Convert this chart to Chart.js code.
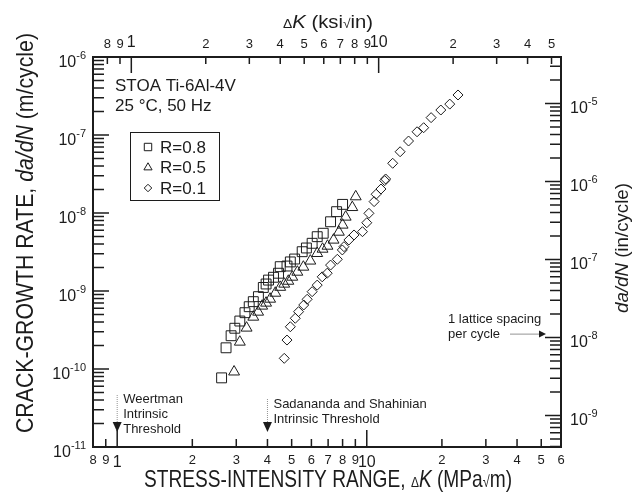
<!DOCTYPE html>
<html>
<head>
<meta charset="utf-8">
<title>Crack growth rate vs stress-intensity range</title>
<script src="https://cdn.jsdelivr.net/npm/chart.js@4/dist/chart.umd.min.js"></script>
<style>
  html, body { margin: 0; padding: 0; background: #fff; }
  #chart { display: block; }
</style>
</head>
<body>
<canvas id="chart" width="639" height="493"></canvas>
<script>
// ---- data ----
// R = 0.8 (squares)
const r08DeltaK = [2.62, 2.73, 2.86, 2.96, 3.10, 3.25, 3.38, 3.51, 3.68, 3.85, 3.95, 4.04, 4.23,
  4.43, 4.50, 4.79, 4.94, 5.14, 5.51, 5.73, 6.04, 6.33, 6.69, 7.16, 7.57, 8.00];
const r08Rate = [7.7e-11, 1.87e-10, 2.67e-10, 3.33e-10, 4.12e-10, 5.27e-10, 6.29e-10, 7.3e-10,
  8.46e-10, 1.11e-9, 1.23e-9, 1.38e-9, 1.5e-9, 1.69e-9, 2.05e-9, 2.09e-9, 2.36e-9, 2.57e-9,
  3.19e-9, 3.56e-9, 4.09e-9, 4.97e-9, 5.5e-9, 7.72e-9, 1.04e-8, 1.29e-8];

// R = 0.5 (triangles)
const r05DeltaK = [2.94, 3.10, 3.30, 3.51, 3.67, 3.81, 3.95, 4.10, 4.30, 4.50, 4.67, 4.85, 5.03,
  5.27, 5.57, 5.94, 6.33, 6.65, 6.96, 7.36, 7.73, 8.00, 8.23, 8.75, 9.03];
const r05Rate = [9.2e-11, 2.22e-10, 3.36e-10, 4.64e-10, 5.38e-10, 6.43e-10, 7.02e-10, 7.89e-10,
  9.41e-10, 1.12e-9, 1.23e-9, 1.34e-9, 1.51e-9, 1.75e-9, 2.03e-9, 2.43e-9, 3.04e-9, 3.45e-9,
  3.77e-9, 4.51e-9, 5.7e-9, 7.02e-9, 8.89e-9, 1.18e-8, 1.62e-8];

// R = 0.1 (diamonds)
const r01DeltaK = [4.67, 4.79, 4.94, 5.17, 5.33, 5.59, 5.77, 6.04, 6.33, 6.63, 6.94, 7.16, 7.62,
  7.98, 8.10, 8.48, 8.89, 9.61, 10.0, 10.2, 10.7, 10.9, 11.4, 11.8, 11.9, 12.7, 13.6, 14.7,
  15.9, 16.9, 18.1, 19.8, 21.5, 23.2];
const r01Rate = [1.37e-10, 2.35e-10, 3.48e-10, 4.47e-10, 5.43e-10, 6.62e-10, 7.83e-10, 9.8e-10,
  1.19e-9, 1.52e-9, 1.69e-9, 2.15e-9, 2.55e-9, 3.36e-9, 3.7e-9, 4.51e-9, 5.23e-9, 5.76e-9,
  7.5e-9, 9.9e-9, 1.4e-8, 1.74e-8, 2.03e-8, 2.6e-8, 2.73e-8, 4.34e-8, 6.1e-8, 8.37e-8, 1.1e-7,
  1.24e-7, 1.67e-7, 2.09e-7, 2.49e-7, 3.26e-7];

// ---- axes ----
const kMin = 0.8, kMax = 60;            // MPa√m
const rateMin = 1e-11, rateMax = 1e-6;  // m/cycle
const KSI_PER_MPA = 0.910048;           // ksi√in per MPa√m
const IN_PER_M = 39.3701;

const kTicksSI = [0.8, 0.9, 1, 2, 3, 4, 5, 6, 7, 8, 9, 10, 20, 30, 40, 50, 60];
const kTickLabelsSI = ['8', '9', '1', '2', '3', '4', '5', '6', '7', '8', '9', '10', '2', '3', '4', '5', '6'];
const kTicksUS = [0.8, 0.9, 1, 2, 3, 4, 5, 6, 7, 8, 9, 10, 20, 30, 40, 50];
const kTickLabelsUS = ['8', '9', '1', '2', '3', '4', '5', '6', '7', '8', '9', '10', '2', '3', '4', '5'];
const mantissas = [1, 2, 3, 4, 5, 6, 7, 8, 9];
const rateDecadesSI = [-11, -10, -9, -8, -7, -6];
const rateDecadesUS = [-10, -9, -8, -7, -6, -5];

// ---- annotations ----
const materialText = ['STOA Ti-6Al-4V', '25 \u00B0C, 50 Hz'];
const weertmanK = 1, sadanandaK = 4;
const weertmanText = ['Weertman', 'Intrinsic', 'Threshold'];
const sadanandaText = ['Sadananda and Shahinian', 'Intrinsic Threshold'];
const latticeRate = 2.8e-10; // m/cycle, one lattice spacing per cycle
const latticeText = ['1 lattice spacing', 'per cycle'];

const FONT = '"Liberation Sans", Arial, Helvetica, sans-serif';
const INK = '#1c1c1c';

const series = [
  { label: 'R=0.8', k: r08DeltaK, rate: r08Rate, style: 'rect', radius: 7 },
  { label: 'R=0.5', k: r05DeltaK, rate: r05Rate, style: 'triangle', radius: 6.3 },
  { label: 'R=0.1', k: r01DeltaK, rate: r01Rate, style: 'rectRot', radius: 5 },
];

function logTicks(decades, lo, hi) {
  const out = [];
  decades.forEach((d) => {
    mantissas.forEach((m) => {
      const v = m * Math.pow(10, d);
      if (v >= lo * 0.999 && v <= hi * 1.001) out.push({ value: v, major: m === 1, exp: d });
    });
  });
  return out;
}

const isDecade = (v) => Math.abs(Math.log10(v) - Math.round(Math.log10(v))) < 1e-6;

function xAxis(position, min, max, tickValues, tickLabels, height, pad) {
  return {
    type: 'logarithmic',
    position,
    min,
    max,
    afterFit: (s) => { s.height = height; },
    afterBuildTicks: (s) => { s.ticks = tickValues.map((v) => ({ value: v, major: isDecade(v) })); },
    ticks: {
      autoSkip: false,
      maxRotation: 0,
      padding: pad,
      color: INK,
      font: (ctx) => ({ family: FONT, size: ctx.tick && isDecade(ctx.tick.value) ? 16 : 13 }),
      callback: (v, i) => tickLabels[i],
    },
    grid: { display: false, drawTicks: false },
    border: { display: false },
  };
}

function yAxis(position, min, max, decades, width) {
  return {
    type: 'logarithmic',
    position,
    min,
    max,
    afterFit: (s) => { s.width = width; },
    afterBuildTicks: (s) => { s.ticks = logTicks(decades, min, max); },
    ticks: { display: false, autoSkip: false },
    grid: { display: false, drawTicks: false },
    border: { display: false },
  };
}

// text made of runs with different fonts, squeezed to a target width
function drawRuns(ctx, runs, x, y, width, angle) {
  let total = 0;
  runs.forEach((r) => { ctx.font = r.font; r.w = ctx.measureText(r.text).width; total += r.w; });
  ctx.save();
  ctx.translate(x, y);
  if (angle) ctx.rotate(angle);
  ctx.scale(width / total, 1);
  ctx.textBaseline = 'alphabetic';
  ctx.textAlign = 'left';
  let cx = -total / 2;
  runs.forEach((r) => { ctx.font = r.font; ctx.fillText(r.text, cx, r.dy || 0); cx += r.w; });
  ctx.restore();
}

function drawPower(ctx, exp, x, y, align) {
  const base = '10', sup = '\u2212'.replace('\u2212', '-') + Math.abs(exp);
  ctx.font = `16px ${FONT}`;
  const wb = ctx.measureText(base).width;
  ctx.font = `11px ${FONT}`;
  const ws = ctx.measureText(sup).width;
  const left = align === 'right' ? x - wb - ws : x;
  ctx.textAlign = 'left';
  ctx.textBaseline = 'alphabetic';
  ctx.font = `16px ${FONT}`;
  ctx.fillText(base, left, y + 10);
  ctx.font = `11px ${FONT}`;
  ctx.fillText(sup, left + wb, y + 2);
}

const decor = {
  id: 'decor',
  afterDraw(chart) {
    const { ctx, chartArea: a, scales } = chart;
    ctx.save();
    ctx.strokeStyle = INK;
    ctx.fillStyle = INK;

    // inward tick marks
    ctx.lineWidth = 1.5;
    ctx.beginPath();
    scales.x.ticks.forEach((t) => {
      const px = scales.x.getPixelForValue(t.value);
      const len = isDecade(t.value) ? 17 : 8;
      ctx.moveTo(px, a.bottom); ctx.lineTo(px, a.bottom - len);
    });
    scales.xTop.ticks.forEach((t) => {
      const px = scales.xTop.getPixelForValue(t.value);
      const len = isDecade(t.value) ? 16 : 7;
      ctx.moveTo(px, a.top); ctx.lineTo(px, a.top + len);
    });
    scales.y.ticks.forEach((t) => {
      const py = scales.y.getPixelForValue(t.value);
      const len = t.major ? 16 : 11;
      ctx.moveTo(a.left, py); ctx.lineTo(a.left + len, py);
    });
    scales.yRight.ticks.forEach((t) => {
      const py = scales.yRight.getPixelForValue(t.value);
      const len = t.major ? 16 : 11;
      ctx.moveTo(a.right, py); ctx.lineTo(a.right - len, py);
    });
    ctx.stroke();

    // frame
    ctx.lineWidth = 2;
    ctx.strokeRect(a.left, a.top, a.right - a.left, a.bottom - a.top);

    // power-of-ten labels
    scales.y.ticks.filter((t) => t.major).forEach((t) => {
      drawPower(ctx, t.exp, a.left - 7, scales.y.getPixelForValue(t.value), 'right');
    });
    scales.yRight.ticks.filter((t) => t.major).forEach((t) => {
      drawPower(ctx, t.exp, a.right + 9, scales.yRight.getPixelForValue(t.value), 'left');
    });

    // axis titles
    const big = `24px ${FONT}`;
    drawRuns(ctx, [
      { text: 'STRESS-INTENSITY RANGE, ', font: big },
      { text: '\u0394', font: `15px ${FONT}` },
      { text: 'K', font: `italic ${big}` },
      { text: ' (MPa', font: big },
      { text: '\u221A', font: `16px ${FONT}` },
      { text: 'm)', font: big },
    ], 328, 487, 368);
    drawRuns(ctx, [
      { text: 'CRACK-GROWTH RATE, ', font: big },
      { text: 'da/dN', font: `italic ${big}` },
      { text: ' (m/cycle)', font: big },
    ], 33, 233, 400, -Math.PI / 2);
    const mid = `19px ${FONT}`;
    drawRuns(ctx, [
      { text: '\u0394', font: `13px ${FONT}` },
      { text: 'K', font: `italic ${mid}` },
      { text: ' (ksi', font: mid },
      { text: '\u221A', font: `13px ${FONT}` },
      { text: 'in)', font: mid },
    ], 328, 28, 90);
    drawRuns(ctx, [
      { text: 'da/dN', font: `italic ${mid}` },
      { text: ' (in/cycle)', font: mid },
    ], 628, 248, 130, -Math.PI / 2);

    // material / test conditions
    ctx.textAlign = 'left';
    ctx.textBaseline = 'alphabetic';
    ctx.font = `17px ${FONT}`;
    materialText.forEach((s, i) => ctx.fillText(s, a.left + 22, a.top + 34 + i * 20));

    // legend box
    const lx = a.left + 37, ly = a.top + 75;
    ctx.lineWidth = 1;
    ctx.strokeRect(lx + 0.5, ly + 0.5, 89, 68);
    series.forEach((s, i) => {
      const cy = ly + 15 + i * 20.5;
      ctx.fillStyle = 'rgba(0,0,0,0)';
      ctx.strokeStyle = INK;
      Chart.helpers.drawPoint(ctx, { pointStyle: s.style, radius: s.radius * 0.75, borderWidth: 1 }, lx + 18, cy);
      ctx.fillStyle = INK;
      ctx.font = `17px ${FONT}`;
      ctx.textBaseline = 'middle';
      ctx.fillText(s.label, lx + 30, cy + 1);
    });

    // threshold arrows
    const tipY = a.bottom - 15;
    [[weertmanK, weertmanText, 6, 399, 49], [sadanandaK, sadanandaText, 6, 404, 45]].forEach(([k, lines, dx, ty, stem]) => {
      const px = scales.x.getPixelForValue(k);
      ctx.strokeStyle = '#777';
      ctx.lineWidth = 0.8;
      ctx.setLineDash([1, 1]);
      ctx.beginPath();
      ctx.moveTo(px, tipY - stem + 12); ctx.lineTo(px, tipY - 9);
      ctx.stroke();
      ctx.setLineDash([]);
      ctx.fillStyle = INK;
      ctx.beginPath();
      ctx.moveTo(px - 4.5, tipY - 10); ctx.lineTo(px + 4.5, tipY - 10); ctx.lineTo(px, tipY);
      ctx.closePath();
      ctx.fill();
      ctx.font = `13px ${FONT}`;
      ctx.textBaseline = 'middle';
      lines.forEach((s, i) => ctx.fillText(s, px + dx, ty + i * 15));
    });

    // lattice spacing arrow
    const ly2 = scales.y.getPixelForValue(latticeRate);
    ctx.font = `13px ${FONT}`;
    ctx.textBaseline = 'middle';
    ctx.fillText(latticeText[0], a.right - 113, ly2 - 15);
    ctx.fillText(latticeText[1], a.right - 113, ly2);
    ctx.strokeStyle = '#777';
    ctx.lineWidth = 0.8;
    ctx.beginPath();
    ctx.moveTo(a.right - 51, ly2); ctx.lineTo(a.right - 21, ly2);
    ctx.stroke();
    ctx.beginPath();
    ctx.moveTo(a.right - 15, ly2); ctx.lineTo(a.right - 22, ly2 - 3.5); ctx.lineTo(a.right - 22, ly2 + 3.5);
    ctx.closePath();
    ctx.fill();

    ctx.restore();
  },
};

new Chart(document.getElementById('chart'), {
  type: 'scatter',
  data: {
    datasets: series.map((s) => ({
      label: s.label,
      data: s.k.map((k, i) => ({ x: k, y: s.rate[i] })),
      pointStyle: s.style,
      pointRadius: s.radius,
      pointHoverRadius: s.radius,
      borderColor: INK,
      backgroundColor: 'rgba(0,0,0,0)',
      borderWidth: 1,
      xAxisID: 'x',
      yAxisID: 'y',
    })),
  },
  options: {
    responsive: false,
    devicePixelRatio: 1,
    animation: false,
    layout: { padding: 0 },
    plugins: { legend: { display: false }, tooltip: { enabled: false } },
    scales: {
      x: xAxis('bottom', kMin, kMax, kTicksSI, kTickLabelsSI, 46, 6),
      xTop: xAxis('top', kMin * KSI_PER_MPA, kMax * KSI_PER_MPA, kTicksUS, kTickLabelsUS, 57, 5),
      y: yAxis('left', rateMin, rateMax, rateDecadesSI, 93),
      yRight: yAxis('right', rateMin * IN_PER_M, rateMax * IN_PER_M, rateDecadesUS, 78),
    },
  },
  plugins: [decor],
});
</script>
</body>
</html>
